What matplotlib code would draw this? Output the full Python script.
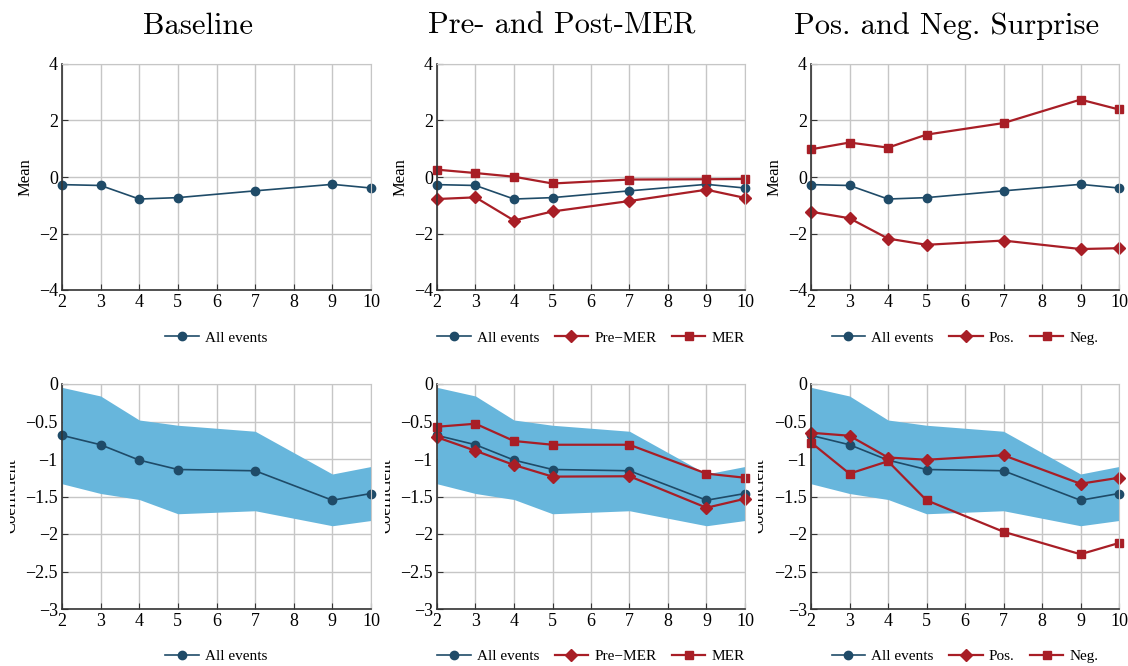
import numpy as np
import matplotlib
matplotlib.use("Agg")
import matplotlib.pyplot as plt
from matplotlib.transforms import Bbox

plt.rcParams['font.family'] = ['Liberation Serif', 'DejaVu Serif']
plt.rcParams['mathtext.fontset'] = 'stix'

# --- Data ---
horizons = [2, 3, 4, 5, 7, 9, 10]

mean_all = [-0.27, -0.30, -0.78, -0.73, -0.49, -0.26, -0.39]
mean_pre_mer = [-0.78, -0.72, -1.54, -1.22, -0.85, -0.45, -0.74]
mean_mer = [0.26, 0.14, 0.01, -0.23, -0.09, -0.08, -0.07]
mean_pos = [-1.23, -1.46, -2.18, -2.40, -2.25, -2.55, -2.52]
mean_neg = [0.98, 1.22, 1.04, 1.50, 1.91, 2.74, 2.39]

coef_all = [-0.685, -0.81, -1.015, -1.14, -1.157, -1.55, -1.46]
coef_upper = [-0.045, -0.16, -0.48, -0.55, -0.63, -1.20, -1.10]
coef_lower = [-1.33, -1.46, -1.54, -1.73, -1.69, -1.89, -1.82]
coef_pre_mer = [-0.71, -0.89, -1.08, -1.235, -1.23, -1.65, -1.53]
coef_mer = [-0.57, -0.53, -0.76, -0.81, -0.81, -1.195, -1.25]
coef_pos = [-0.65, -0.69, -0.98, -1.01, -0.95, -1.33, -1.25]
coef_neg = [-0.78, -1.195, -1.03, -1.55, -1.97, -2.27, -2.12]

titles = ['Baseline', 'Pre- and Post-MER', 'Pos. and Neg. Surprise']

BLUE = '#1f4b68'
RED = '#a81e26'
BAND = '#67b6dc'
GRID = '#c6c6c6'

W, H = 1128, 666
fig = plt.figure(figsize=(W / 100, H / 100), dpi=100)

lefts = [62, 437, 811]
widths = [309, 308, 308]
title_x = [198, 562, 947]   # title centres (px), a bit left of the axes centres


def px_axes(x0, y_top, w, h):
    return fig.add_axes([x0 / W, 1 - (y_top + h) / H, w / W, h / H])


def style(ax, ylim, yticks, yticklabels):
    ax.set_xlim(2, 10)
    ax.set_ylim(*ylim)
    ax.set_xticks(range(2, 11))
    ax.set_yticks(yticks)
    ax.set_yticklabels(yticklabels)
    ax.grid(True, color=GRID, linewidth=1.0)
    ax.set_axisbelow(True)
    for s in ['top', 'right']:
        ax.spines[s].set_color(GRID)
    for s in ['left', 'bottom']:
        ax.spines[s].set_color('#333333')
        ax.spines[s].set_linewidth(1.2)
    ax.tick_params(direction='in', length=4, labelsize=13, pad=3, color='#333333')


def add_legend(ax, handles, labels, ncol):
    ax.legend(handles, labels, loc='upper center', bbox_to_anchor=(0.5, -0.12),
              ncol=ncol, frameon=False, fontsize=11, handlelength=2.2,
              columnspacing=1.0, handletextpad=0.4)


line_kw_all = dict(color=BLUE, marker='o', markersize=6, linewidth=1.2, clip_on=False)
line_kw_pre = dict(color=RED, marker='D', markersize=6, linewidth=1.6, clip_on=False)
line_kw_mer = dict(color=RED, marker='s', markersize=5.5, linewidth=1.6, clip_on=False)

top_ticks = [-4, -2, 0, 2, 4]
top_labels = ['\u22124', '\u22122', '0', '2', '4']
bot_ticks = [-3, -2.5, -2, -1.5, -1, -0.5, 0]
bot_labels = ['\u22123', '\u22122.5', '\u22122', '\u22121.5', '\u22121', '\u22120.5', '0']

# --- Top row: means ---
top_series = [
    [],
    [(mean_pre_mer, line_kw_pre, 'Pre\u2212MER'), (mean_mer, line_kw_mer, 'MER')],
    [(mean_pos, line_kw_pre, 'Pos.'), (mean_neg, line_kw_mer, 'Neg.')],
]
for i in range(3):
    ax = px_axes(lefts[i], 64, widths[i], 226)
    style(ax, (-4, 4), top_ticks, top_labels)
    h = [ax.plot(horizons, mean_all, **line_kw_all)[0]]
    labs = ['All events']
    for vals, kw, lab in top_series[i]:
        h.append(ax.plot(horizons, vals, **kw)[0])
        labs.append(lab)
    ax.set_ylabel('Mean', fontsize=12, labelpad=4)
    add_legend(ax, h, labs, len(h))
    fig.text(title_x[i] / W, 1 - 26 / H, titles[i], ha='center', va='center',
             fontsize=22, family='cmr10')

# --- Bottom row: coefficients ---
bot_series = [
    [],
    [(coef_pre_mer, line_kw_pre, 'Pre\u2212MER'), (coef_mer, line_kw_mer, 'MER')],
    [(coef_pos, line_kw_pre, 'Pos.'), (coef_neg, line_kw_mer, 'Neg.')],
]
clip_x = [10, 385, 758]
for i in range(3):
    ax = px_axes(lefts[i], 384, widths[i], 225)
    style(ax, (-3, 0), bot_ticks, bot_labels)
    ax.fill_between(horizons, coef_lower, coef_upper, color=BAND, linewidth=0, zorder=1.5)
    h = [ax.plot(horizons, coef_all, **line_kw_all)[0]]
    labs = ['All events']
    for vals, kw, lab in bot_series[i]:
        h.append(ax.plot(horizons, vals, **kw)[0])
        labs.append(lab)
    add_legend(ax, h, labs, len(h))
    # y label, partly hidden as in the source figure
    t = fig.text((clip_x[i] + 1) / W, 1 - 496 / H, 'Coefficient', rotation=90,
                 ha='center', va='center', fontsize=12)
    t.set_clip_box(Bbox([[clip_x[i], 0], [clip_x[i] + 100, H]]))
    t.set_clip_on(True)

fig.savefig('out.png', dpi=100)
